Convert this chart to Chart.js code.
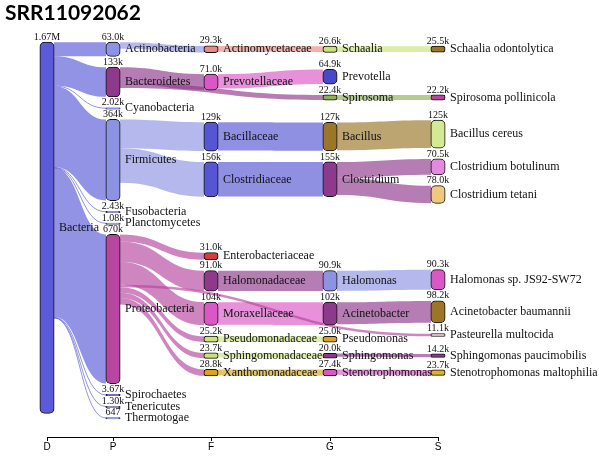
<!DOCTYPE html>
<html>
<head>
<meta charset="utf-8">
<script src="https://cdn.jsdelivr.net/npm/chart.js@4.4.0/dist/chart.umd.min.js"></script>
<style>
  html, body { margin: 0; padding: 0; background: #fff; }
</style>
</head>
<body>
<canvas id="sankey" width="599" height="456"></canvas>
<script>
// columns of the sankey and where they sit on the bottom axis
const ranks = ['D', 'P', 'F', 'G', 'S'];
const rankPos = [0, 66, 164, 283, 391];

const taxa = [
  'Bacteria',
  'Actinobacteria', 'Bacteroidetes', 'Cyanobacteria', 'Firmicutes', 'Fusobacteria',
  'Planctomycetes', 'Proteobacteria', 'Spirochaetes', 'Tenericutes', 'Thermotogae',
  'Actinomycetaceae', 'Prevotellaceae', 'Bacillaceae', 'Clostridiaceae', 'Enterobacteriaceae',
  'Halomonadaceae', 'Moraxellaceae', 'Pseudomonadaceae', 'Sphingomonadaceae', 'Xanthomonadaceae',
  'Schaalia', 'Prevotella', 'Spirosoma', 'Bacillus', 'Clostridium',
  'Halomonas', 'Acinetobacter', 'Pseudomonas', 'Sphingomonas', 'Stenotrophomonas',
  'Schaalia odontolytica', 'Spirosoma pollinicola', 'Bacillus cereus', 'Clostridium botulinum', 'Clostridium tetani',
  'Halomonas sp. JS92-SW72', 'Acinetobacter baumannii', 'Pasteurella multocida', 'Sphingomonas paucimobilis', 'Stenotrophomonas maltophilia'
];
const taxRank = [
  'D',
  'P', 'P', 'P', 'P', 'P', 'P', 'P', 'P', 'P', 'P',
  'F', 'F', 'F', 'F', 'F', 'F', 'F', 'F', 'F', 'F',
  'G', 'G', 'G', 'G', 'G', 'G', 'G', 'G', 'G', 'G',
  'S', 'S', 'S', 'S', 'S', 'S', 'S', 'S', 'S', 'S'
];
const taxParent = [
  null,
  'Bacteria', 'Bacteria', 'Bacteria', 'Bacteria', 'Bacteria',
  'Bacteria', 'Bacteria', 'Bacteria', 'Bacteria', 'Bacteria',
  'Actinobacteria', 'Bacteroidetes', 'Firmicutes', 'Firmicutes', 'Proteobacteria',
  'Proteobacteria', 'Proteobacteria', 'Proteobacteria', 'Proteobacteria', 'Proteobacteria',
  'Actinomycetaceae', 'Prevotellaceae', 'Bacteroidetes', 'Bacillaceae', 'Clostridiaceae',
  'Halomonadaceae', 'Moraxellaceae', 'Pseudomonadaceae', 'Sphingomonadaceae', 'Xanthomonadaceae',
  'Schaalia', 'Spirosoma', 'Bacillus', 'Clostridium', 'Clostridium',
  'Halomonas', 'Acinetobacter', 'Proteobacteria', 'Sphingomonas', 'Stenotrophomonas'
];
const reads = [
  1670000,
  63000, 133000, 2020, 364000, 2430, 1080, 670000, 3670, 1300, 647,
  29300, 71000, 129000, 156000, 31000, 91000, 104000, 25200, 23700, 28800,
  26600, 64900, 22400, 127000, 155000, 90900, 102000, 25000, 20000, 27400,
  25500, 22200, 125000, 70500, 78000, 90300, 98200, 11100, 14200, 23700
];
const taxColor = [
  '#5b5bd9',
  '#8d93e3', '#8e3a8c', '#8d93e3', '#8d93e3', '#8d93e3', '#8d93e3', '#b6469f', '#5b5bd9', '#8d93e3', '#8d93e3',
  '#e58a86', '#d958c6', '#5656d5', '#5656d5', '#d43d3d', '#8e3a8c', '#d958c6', '#c9e37a', '#c9e37a', '#d9a51f',
  '#c9e37a', '#4848c6', '#8eb152', '#9b7629', '#8e3a8c', '#8d93e3', '#8e3a8c', '#d9a51f', '#8e3a8c', '#d958c6',
  '#9b7629', '#b6469f', '#d3e994', '#e488e0', '#efc77e', '#d958c6', '#9b7629', '#f7e0f3', '#8e3a8c', '#e0b223'
];

// build nodes + links
var nodes = taxa.map(function (name, i) {
  return { index: i, name: name, col: ranks.indexOf(taxRank[i]), value: reads[i], color: taxColor[i], sourceLinks: [], targetLinks: [] };
});
var links = [];
taxParent.forEach(function (p, i) {
  if (p === null) return;
  var src = nodes[taxa.indexOf(p)];
  var l = { index: links.length, source: src, target: nodes[i], value: reads[i] };
  src.sourceLinks.push(l);
  nodes[i].targetLinks.push(l);
  links.push(l);
});

// ---- layout, in read units ----
// every column keeps its order; a node tries to sit centred on its parent,
// overlaps are settled by a weighted isotonic fit (pool adjacent violators)
var py = 50000;
var cols = ranks.map(function (r, c) { return nodes.filter(function (n) { return n.col === c; }); });
var extent = Math.max.apply(null, cols.map(function (c) {
  return c.reduce(function (s, n) { return s + n.value; }, 0) + (c.length - 1) * py;
}));

cols.forEach(function (c) {
  var off = 0;
  var items = c.map(function (n) {
    var ideal = 0;
    if (n.targetLinks.length) {
      var w = 0, s = 0;
      n.targetLinks.forEach(function (l) { w += l.value; s += (l.source.y0 + l.source.value / 2) * l.value; });
      ideal = s / w - n.value / 2;
    }
    var it = { node: n, off: off, g: ideal - off, w: n.value };
    off += n.value + py;
    return it;
  });
  var blocks = [];
  items.forEach(function (it) {
    var b = { g: it.g, w: it.w, items: [it] };
    while (blocks.length && blocks[blocks.length - 1].g > b.g) {
      var p = blocks.pop();
      b = { g: (p.g * p.w + b.g * b.w) / (p.w + b.w), w: p.w + b.w, items: p.items.concat(b.items) };
    }
    blocks.push(b);
  });
  var maxG = extent - (off - py);
  blocks.forEach(function (b) {
    var g = Math.min(Math.max(b.g, 0), maxG);
    b.items.forEach(function (it) { it.node.y0 = g + it.off; it.node.y1 = it.node.y0 + it.node.value; });
  });
});

// links stacked from the top of each node, ordered by the other end
nodes.forEach(function (n) {
  n.sourceLinks.sort(function (a, b) { return a.target.y0 - b.target.y0 || a.index - b.index; });
  n.targetLinks.sort(function (a, b) { return a.source.y0 - b.source.y0 || a.index - b.index; });
  var a = n.y0, b = n.y0;
  n.sourceLinks.forEach(function (l) { l.ys = a; a += l.value; });
  n.targetLinks.forEach(function (l) { l.yt = b; b += l.value; });
});

function fmt(v) {
  if (v >= 1e6) return (v / 1e6).toPrecision(3) + 'M';
  if (v >= 1e3) return (v / 1e3).toPrecision(3) + 'k';
  return String(v);
}
function fade(hex, a) {
  var r = parseInt(hex.substr(1, 2), 16), g = parseInt(hex.substr(3, 2), 16), b = parseInt(hex.substr(5, 2), 16);
  return 'rgba(' + r + ',' + g + ',' + b + ',' + a + ')';
}

var nodeHalf = 7;
const sankeyPlugin = {
  id: 'sankeyPlugin',
  beforeDatasetsDraw: function (chart) {
    var ctx = chart.ctx, x = chart.scales.x, y = chart.scales.y;
    ctx.save();
    links.forEach(function (l) {
      var x0 = x.getPixelForValue(rankPos[l.source.col]) + nodeHalf;
      var x1 = x.getPixelForValue(rankPos[l.target.col]) - nodeHalf;
      var s0 = y.getPixelForValue(l.ys), s1 = y.getPixelForValue(l.ys + l.value);
      var t0 = y.getPixelForValue(l.yt), t1 = y.getPixelForValue(l.yt + l.value);
      var xm = (x0 + x1) / 2;
      ctx.fillStyle = ctx.strokeStyle = fade(l.source.color, 0.66);
      if (s1 - s0 < 1) {
        var sm = (s0 + s1) / 2, tm = (t0 + t1) / 2;
        ctx.beginPath();
        ctx.moveTo(x0, sm);
        ctx.bezierCurveTo(xm, sm, xm, tm, x1, tm);
        ctx.lineWidth = 1;
        ctx.stroke();
        return;
      }
      ctx.beginPath();
      ctx.moveTo(x0, s0);
      ctx.bezierCurveTo(xm, s0, xm, t0, x1, t0);
      ctx.lineTo(x1, t1);
      ctx.bezierCurveTo(xm, t1, xm, s1, x0, s1);
      ctx.closePath();
      ctx.fill();
    });
    ctx.restore();
  },
  afterDatasetsDraw: function (chart) {
    var ctx = chart.ctx, x = chart.scales.x, y = chart.scales.y;
    ctx.save();
    ctx.fillStyle = '#111';
    nodes.forEach(function (n) {
      var cx = x.getPixelForValue(rankPos[n.col]);
      var top = y.getPixelForValue(n.y0), bot = y.getPixelForValue(n.y1);
      ctx.font = '10px "Liberation Serif"';
      ctx.textAlign = 'center';
      ctx.textBaseline = 'alphabetic';
      ctx.fillText(fmt(n.value), cx, top - 2.5);
      ctx.font = '12px "Liberation Serif"';
      ctx.textAlign = 'left';
      ctx.textBaseline = 'middle';
      ctx.fillText(n.name, cx + 12, (top + bot) / 2);
    });
    ctx.restore();
  }
};

const ctx = document.getElementById('sankey').getContext('2d');
const chart = new Chart(ctx, {
  type: 'bar',
  data: {
    datasets: [{
      data: nodes.map(function (n) { return { x: rankPos[n.col], y: [n.y0, n.y1] }; }),
      backgroundColor: nodes.map(function (n) { return n.color; }),
      borderColor: '#111',
      borderWidth: 1,
      borderRadius: 5,
      borderSkipped: false,
      barThickness: 14,
      minBarLength: 1,
      inflateAmount: 0.5,
      clip: false
    }]
  },
  options: {
    responsive: false,
    animation: false,
    layout: { padding: { left: 5, right: 161, top: 0, bottom: 3 } },
    plugins: {
      legend: { display: false },
      tooltip: { enabled: false },
      title: {
        display: true,
        text: 'SRR11092062',
        align: 'start',
        color: '#000',
        font: { family: 'Lato', size: 21, weight: 'bold' },
        padding: { top: 1, bottom: 16 }
      }
    },
    scales: {
      x: {
        type: 'linear',
        min: 0,
        max: 391,
        offset: false,
        grid: { display: true, offset: false, drawOnChartArea: false, drawTicks: true, tickLength: 4, color: '#000' },
        border: { display: true, color: '#000', width: 1 },
        afterBuildTicks: function (scale) {
          scale.ticks = rankPos.map(function (v) { return { value: v }; });
        },
        ticks: {
          autoSkip: false,
          maxRotation: 0,
          padding: 0,
          color: '#000',
          font: { family: 'Liberation Sans', size: 10 },
          callback: function (v, i) { return ranks[i]; }
        }
      },
      y: {
        type: 'linear',
        reverse: true,
        min: 0,
        max: extent * 395 / 376,
        grid: { display: false },
        border: { display: false },
        ticks: { display: false },
        afterFit: function (scale) { scale.width = 42; }
      }
    }
  },
  plugins: [sankeyPlugin]
});
</script>
</body>
</html>
